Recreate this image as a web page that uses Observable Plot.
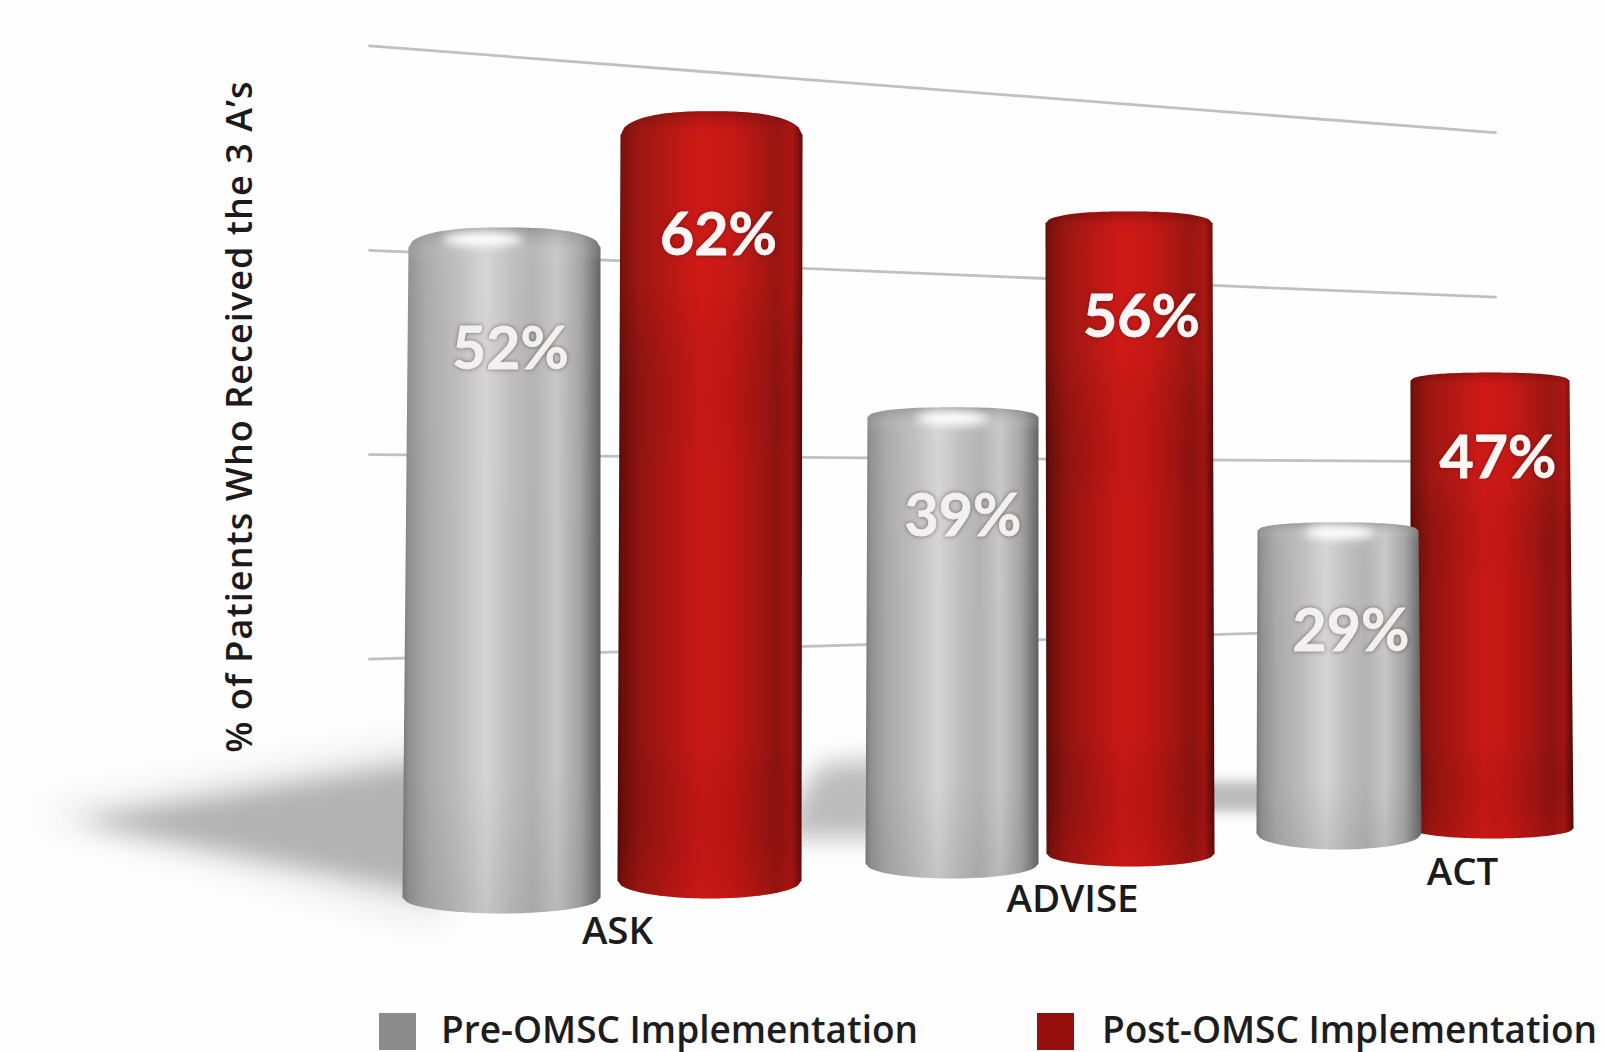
<!DOCTYPE html>
<html>
<head>
<meta charset="utf-8">
<script src="https://cdn.jsdelivr.net/npm/d3@7"></script>
<script src="https://cdn.jsdelivr.net/npm/@observablehq/plot@0.6"></script>
<style>
  html, body { margin: 0; padding: 0; background: #fefefe; overflow: hidden; }
  #chart svg { display: block; background: transparent; }
  #legend { position: relative; height: 42px; font: 600 37px "Open Sans", sans-serif; color: #1d1d1d; }
  #legend .swatch { position: absolute; top: 3px; width: 37px; height: 37px; }
  #legend .name { position: absolute; top: -4px; white-space: nowrap; line-height: 46px; }
</style>
</head>
<body>
<div id="chart"></div>
<div id="legend"></div>
<script>
// Share of patients who received each of the 3 A's, before and after OMSC.
const categories = ["ASK", "ADVISE", "ACT"];
const preValues = [52, 39, 29];
const postValues = [62, 56, 47];
const seriesNames = ["Pre-OMSC Implementation", "Post-OMSC Implementation"];
const gridValues = [20, 40, 60, 80];
const yTitle = "% of Patients Who Received the 3 A\u2019s";

// Perspective of the floor: each cylinder stands at its own depth, so it has
// its own footprint and its own pixels-per-percent.
const preBars = [
  {left: 402, right: 600, topLeft: 408, topRight: 600, floor: 897, unit: 12.5, rise: 20, drop: 16, labelDx: 9, labelDy: 123},
  {left: 865, right: 1038, topLeft: 867, topRight: 1038, floor: 863, unit: 11.44, rise: 10, drop: 15, labelDx: 11, labelDy: 110},
  {left: 1256, right: 1421, topLeft: 1257, topRight: 1418, floor: 833, unit: 10.45, rise: 8, drop: 16, labelDx: 12, labelDy: 110}
];
const postBars = [
  {left: 617, right: 801, topLeft: 620, topRight: 802, floor: 880, unit: 12.02, rise: 24, drop: 18, labelDx: 9, labelDy: 125},
  {left: 1046, right: 1214, topLeft: 1045, topRight: 1212, floor: 853, unit: 11.25, rise: 12, drop: 13, labelDx: 11, labelDy: 107},
  {left: 1410, right: 1573, topLeft: 1410, topRight: 1569, floor: 828, unit: 9.53, rise: 8, drop: 10, labelDx: 6, labelDy: 87}
];
const categoryLabelAt = [{x: 617, y: 931}, {x: 1072, y: 899}, {x: 1462, y: 872}];

// Back wall: gridlines converge from the left end to the right end.
const wall = {x1: 369, x2: 1495, floor1: 863, floor2: 790.5, unit1: 10.22, unit2: 8.23};

// Cylinder outline: top cap, right side, bottom cap, left side.
function cylinder(value, b) {
  const shoulder = b.floor - value * b.unit;
  const n = 48, pts = [];
  for (let i = 0; i <= n; i++) {
    const t = -1 + 2 * i / n;
    const x = (b.topLeft + b.topRight) / 2 + t * (b.topRight - b.topLeft) / 2;
    pts.push({x, y: shoulder - b.rise * Math.pow(1 - Math.pow(Math.abs(t), 2.6), 1 / 2)});
  }
  for (let i = n; i >= 0; i--) {
    const t = -1 + 2 * i / n;
    const x = (b.left + b.right) / 2 + t * (b.right - b.left) / 2;
    pts.push({x, y: b.floor + b.drop * Math.sqrt(1 - t * t)});
  }
  return pts;
}

// Elliptic glint sitting just under the rim of a cap.
function glint(value, b, rx, ry, shift, below) {
  const cx = (b.topLeft + b.topRight) / 2 + shift;
  const cy = b.floor - value * b.unit - b.rise + below;
  return d3.range(0, 41).map(i => {
    const a = i / 40 * 2 * Math.PI;
    return {x: cx + rx * Math.cos(a), y: cy + ry * Math.sin(a)};
  });
}

const gridRows = gridValues.flatMap(v => [
  {v, x: wall.x1, y: wall.floor1 - v * wall.unit1},
  {v, x: wall.x2, y: wall.floor2 - v * wall.unit2}
]);

// Floor shadows thrown to the left of each pair of cylinders.
const [askPre, advisePre, actPre] = preBars;
const [askPost, advisePost] = postBars;
const askShadow = [
  {x: askPre.left - 327, y: askPre.floor - 77},
  {x: askPre.left + 40, y: askPre.floor - 138},
  {x: askPre.left + 40, y: askPre.floor - 2}
];
const askFringe = [
  {x: askPre.left - 372, y: askPre.floor - 85},
  {x: askPre.left + 40, y: askPre.floor - 160},
  {x: askPre.left + 40, y: askPre.floor + 30}
];
const adviseShadow = [
  {x: askPost.right + 6, y: advisePre.floor - 80},
  {x: askPost.right + 22, y: advisePre.floor - 100},
  {x: advisePre.left + 20, y: advisePre.floor - 104},
  {x: advisePre.left + 20, y: advisePre.floor - 26},
  {x: askPost.right - 20, y: advisePre.floor - 26}
];
const actShadow = [
  {x: advisePost.right - 20, y: actPre.floor - 52},
  {x: actPre.left + 20, y: actPre.floor - 52},
  {x: actPre.left + 20, y: actPre.floor - 22},
  {x: advisePost.right - 20, y: actPre.floor - 22}
];

function gradient(id, stops, vertical) {
  const g = d3.create("svg:linearGradient").attr("id", id)
    .attr("x1", 0).attr("y1", 0).attr("x2", vertical ? 0 : 1).attr("y2", vertical ? 1 : 0);
  for (const [offset, color, opacity] of stops) {
    g.append("stop").attr("offset", offset).attr("stop-color", color).attr("stop-opacity", opacity ?? 1);
  }
  return g.node();
}

const gradientDefs = () => {
  const defs = d3.create("svg:defs");
  defs.append(() => gradient("greyBody", [
    [0, "#767676"], [0.03, "#8f8f8f"], [0.12, "#a8a8a8"], [0.28, "#bdbdbd"], [0.42, "#d4d4d4"],
    [0.56, "#bcbcbc"], [0.66, "#b2b2b2"], [0.78, "#c6c6c6"], [0.9, "#a2a2a2"], [0.97, "#747474"], [1, "#5f5f5f"]
  ]));
  defs.append(() => gradient("redBody", [
    [0, "#4e0a08"], [0.03, "#6d0f0c"], [0.12, "#8f1410"], [0.28, "#ad1613"], [0.45, "#c91816"],
    [0.6, "#c01714"], [0.75, "#a51512"], [0.86, "#8c1310"], [0.94, "#a01411"], [0.98, "#6a0f0c"], [1, "#4a0907"]
  ]));
  defs.append(() => gradient("redShade", [
    [0, "#3d0705", 0.3], [0.03, "#ff2a20", 0.12], [0.22, "#ff2a20", 0.12], [0.45, "#000", 0], [0.8, "#000", 0], [1, "#c81512", 0.2]
  ], true));
  defs.append(() => gradient("greyShade", [
    [0, "#6d6d6d", 0.4], [0.05, "#fff", 0.04], [0.5, "#fff", 0], [0.8, "#777", 0], [1, "#777", 0.16]
  ], true));
  return defs.node();
};

// Front cylinders are drawn last so they overlap the ones behind them.
function barMarks(i) {
  const pre = preValues[i], post = postValues[i];
  return [
    Plot.line(cylinder(post, postBars[i]), {x: "x", y: "y", fill: "url(#redBody)", stroke: "none"}),
    Plot.line(cylinder(post, postBars[i]), {x: "x", y: "y", fill: "url(#redShade)", stroke: "none"}),
    Plot.line(cylinder(pre, preBars[i]), {x: "x", y: "y", fill: "url(#greyBody)", stroke: "none"}),
    Plot.line(cylinder(pre, preBars[i]), {x: "x", y: "y", fill: "url(#greyShade)", stroke: "none"}),
    Plot.line(glint(pre, preBars[i], [40, 36, 35][i], 7, -[22, 0, -2][i], [12, 11, 10][i]),
      {x: "x", y: "y", fill: "#fff", stroke: "none", imageFilter: "blur(5px)"})
  ];
}

function valueLabel(value, b, fill) {
  return Plot.text([`${value}%`], {
    x: () => (b.left + b.right) / 2 + b.labelDx,
    y: () => b.floor - value * b.unit - b.rise + b.labelDy,
    text: d => d,
    fill,
    stroke: fill,
    strokeWidth: 0.8,
    fontFamily: "Lato, sans-serif",
    fontWeight: 700,
    fontSize: 59,
    textAnchor: "middle",
    lineAnchor: "middle",
    imageFilter: "drop-shadow(0 0 2px rgba(60,20,20,.55))"
  });
}

const chart = Plot.plot({
  width: 1604,
  height: 1010,
  margin: 0,
  x: {domain: [0, 1604], range: [0, 1604], axis: null},
  y: {domain: [0, 1010], range: [0, 1010], axis: null},
  marks: [
    gradientDefs,
    Plot.line(gridRows, {x: "x", y: "y", z: "v", stroke: "#bfc1c1", strokeWidth: 2.8}),
    Plot.line(askFringe, {x: "x", y: "y", fill: "#ebebeb", stroke: "none", imageFilter: "blur(18px)"}),
    Plot.line(askShadow, {x: "x", y: "y", fill: "#b2b2b2", stroke: "none", imageFilter: "blur(12px)"}),
    Plot.line(adviseShadow, {x: "x", y: "y", fill: "#bcbcbc", stroke: "none", imageFilter: "blur(12px)"}),
    Plot.line(actShadow, {x: "x", y: "y", fill: "#bcbcbc", stroke: "none", imageFilter: "blur(6px)"}),
    ...barMarks(2), ...barMarks(1), ...barMarks(0),
    ...categories.flatMap((c, i) => [
      valueLabel(preValues[i], preBars[i], "#f1f1f1"),
      valueLabel(postValues[i], postBars[i], "#fdf6f4")
    ]),
    Plot.text(categories, {
      x: (d, i) => categoryLabelAt[i].x,
      y: (d, i) => categoryLabelAt[i].y,
      text: d => d,
      fill: "#1b1b1b",
      fontFamily: "'Open Sans', sans-serif",
      fontWeight: 600,
      fontSize: 38.5,
      lineAnchor: "middle"
    }),
    Plot.text([yTitle], {
      x: () => 240,
      y: () => 416,
      text: d => d,
      rotate: -90,
      fill: "#1b1b1b",
      fontFamily: "'Open Sans', sans-serif",
      fontWeight: 600,
      fontSize: 36,
      lineAnchor: "middle"
    })
  ]
});
document.getElementById("chart").append(chart);

// The rotated axis title is set slightly wider than the font's natural spacing.
d3.select(chart).selectAll("text")
  .filter(function () { return this.textContent === yTitle; })
  .style("letter-spacing", "1.05px");

// Legend row below the chart.
const legend = d3.select("#legend");
seriesNames.forEach((name, i) => {
  legend.append("div").attr("class", "swatch")
    .style("left", `${[379, 1037][i]}px`)
    .style("background", ["#8c8c8c", "#970f0c"][i]);
  legend.append("div").attr("class", "name")
    .style("left", `${[441, 1102][i]}px`)
    .text(name);
});
</script>
</body>
</html>
